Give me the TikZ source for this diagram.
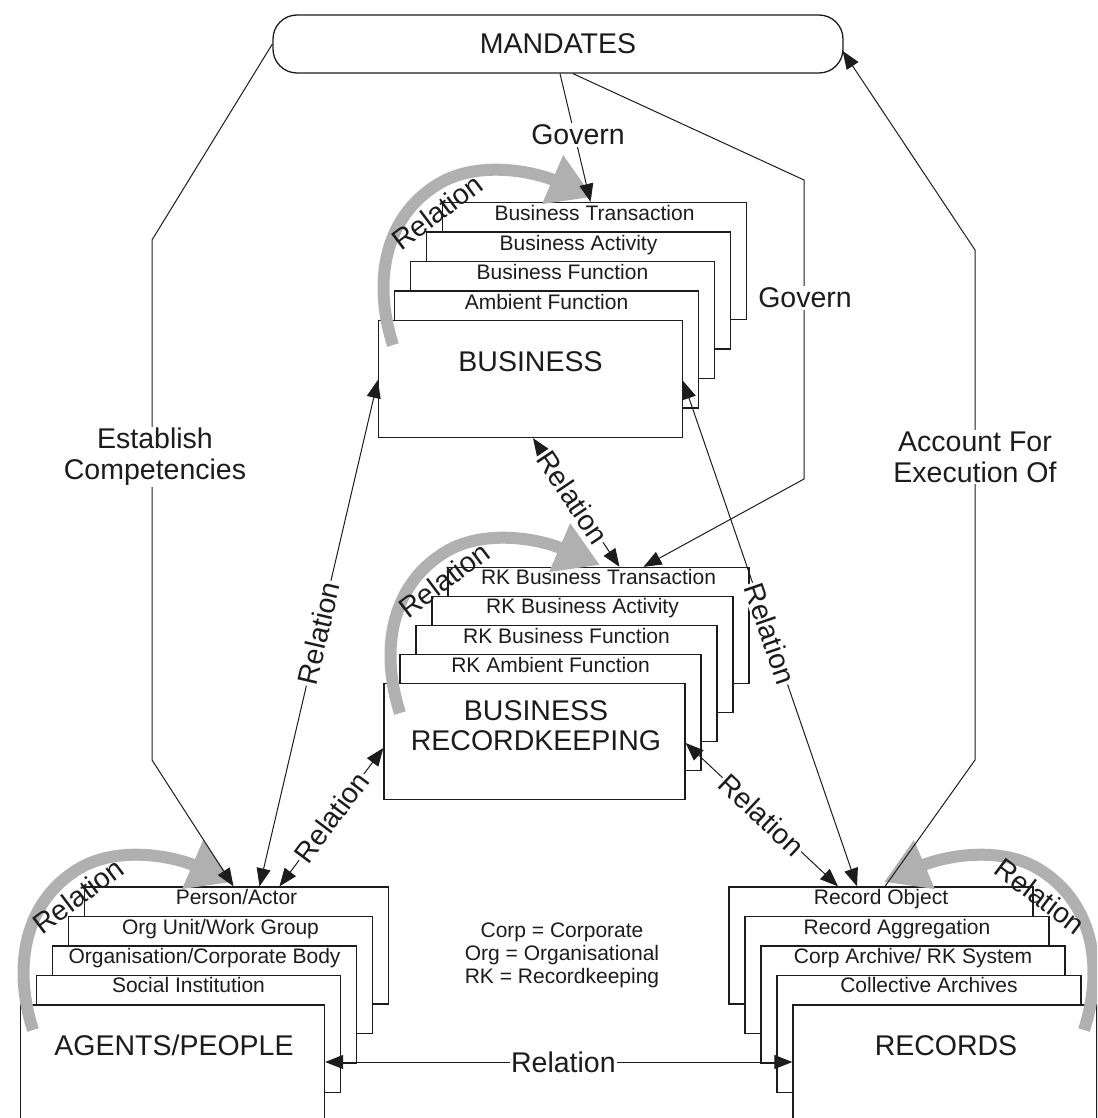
\documentclass[tikz,border=0pt]{standalone}
\usepackage{fontspec}
\setmainfont{Liberation Sans}
\usetikzlibrary{arrows.meta,calc}
\definecolor{arcgray}{RGB}{176,176,176}
\definecolor{ink}{RGB}{28,28,28}
\begin{document}
\begin{tikzpicture}[x=1pt,y=-1pt,
  box/.style={draw=ink, fill=white, line width=1.3pt, minimum width=304pt, minimum height=117pt, inner sep=0pt},
  rkbox/.style={box, minimum width=301pt, minimum height=116pt},
  small/.style={font=\fontsize{21}{23}\selectfont, text=ink, inner sep=0pt, anchor=base},
  big/.style={font=\fontsize{28.5}{31}\selectfont, text=ink},
  bigbase/.style={big, inner sep=0pt, anchor=base},
  conn/.style={draw=ink, line width=1pt},
  tipend/.style={-{Triangle[length=18pt,width=14pt]}},
  both/.style={{Triangle[length=18pt,width=14pt]}-{Triangle[length=18pt,width=14pt]}},
  lbl/.style={big, fill=white, inner sep=1.5pt, sloped},
  plainlbl/.style={big, fill=white, inner sep=1.5pt},
  loopar/.style={draw=arcgray, line width=12pt, -{Triangle[length=44pt,width=50pt]}},
  looplbl/.style={big}
]
\useasboundingbox (0,0) rectangle (1097,1118);
\clip (0,0) rectangle (1097,1118);

% MANDATES
\node[draw=ink, line width=1.3pt, rounded corners=24pt, minimum width=570pt, minimum height=58pt, big] (mand) at (558,44) {MANDATES};

% Business stack
\node[box] (bt) at (594.5,261) {};
\node[box] (ba) at (578.5,290.5) {};
\node[box] (bf) at (562.5,320) {};
\node[box] (bam) at (546.5,349.5) {};
\node[box] (biz) at (530.5,379) {};
\node[small] (tbt) at (594.5,220.5) {Business Transaction};
\node[small] (tba) at (578.5,250) {Business Activity};
\node[small] (tbf) at (562.5,279.5) {Business Function};
\node[small] (tbam) at (546.5,309) {Ambient Function};
\node[bigbase] (tbiz) at (530.5,371) {BUSINESS};

% Recordkeeping stack
\node[rkbox] (rkt) at (598.5,625.5) {};
\node[rkbox] (rka) at (582.5,654.5) {};
\node[rkbox] (rkf) at (566.5,683.5) {};
\node[rkbox] (rkam) at (550.5,712.5) {};
\node[rkbox] (rk) at (534.5,741.5) {};
\node[small] (trkt) at (598.5,584.5) {RK Business Transaction};
\node[small] (trka) at (582.5,613.5) {RK Business Activity};
\node[small] (trkf) at (566.5,643) {RK Business Function};
\node[small] (trkam) at (550.5,672) {RK Ambient Function};
\node[bigbase] (trk1) at (536,720) {BUSINESS};
\node[bigbase] (trk2) at (536,750) {RECORDKEEPING};

% Agents stack
\node[box] (pa) at (236.5,945.5) {};
\node[box] (ou) at (220.5,975) {};
\node[box] (oc) at (204.5,1004.5) {};
\node[box] (si) at (188.5,1034) {};
\node[box] (ag) at (172.5,1063.5) {};
\node[small] (tpa) at (236.5,904.5) {Person/Actor};
\node[small] (tou) at (220.5,934) {Org Unit/Work Group};
\node[small] (toc) at (204.5,963.5) {Organisation/Corporate Body};
\node[small] (tsi) at (188.5,992.5) {Social Institution};
\node[bigbase] (tag) at (174,1055) {AGENTS/PEOPLE};

% Records stack
\node[box] (ro) at (881,945.5) {};
\node[box] (rag) at (897,975) {};
\node[box] (ca) at (913,1004.5) {};
\node[box] (co) at (929,1034) {};
\node[box] (rec) at (945,1063.5) {};
\node[small] (tro) at (881,904.5) {Record Object};
\node[small] (trag) at (897,934) {Record Aggregation};
\node[small] (tca) at (913,963.5) {Corp Archive/ RK System};
\node[small] (tco) at (929,992.5) {Collective Archives};
\node[bigbase] (trec) at (946,1055) {RECORDS};

% Legend
\node[font=\fontsize{21}{23}\selectfont, text=ink, align=center] (leg) at (562,955) {Corp = Corporate\\Org = Organisational\\RK = Recordkeeping};

% Gray self-relation arcs
\draw[loopar] (393,345) .. controls (372,280) and (385,215) .. (440,183) .. controls (480,160) and (535,172) .. (593,197);
\node[looplbl, rotate=37] (lb1) at (437,212) {Relation};
\draw[loopar] (400,713) .. controls (379,648) and (392,583) .. (447,551) .. controls (487,528) and (542,540) .. (600,565);
\node[looplbl, rotate=37] (lb2) at (444,580) {Relation};
\draw[loopar] (33,1030) .. controls (12,965) and (25,900) .. (80,868) .. controls (120,845) and (175,857) .. (233,882);
\node[looplbl, rotate=37] (lb3) at (78,896) {Relation};
\draw[loopar] (1084,1030) .. controls (1105,965) and (1092,900) .. (1037,868) .. controls (997,845) and (942,857) .. (884,882);
\node[looplbl, rotate=-37] (lb4) at (1040,896) {Relation};

% Govern
\draw[conn, tipend] ($(mand.south)+(2,0)$) -- ($(bt.north)+(-4,0)$);
\node[plainlbl] (gov1) at (578,135) {Govern};
\draw[conn, tipend] ($(mand.south)+(15,0)$) -- (804,180) -- (804,479) -- ($(rkt.north)+(45,0)$);
\node[plainlbl] (gov2) at (805,298) {Govern};

% Establish Competencies
\draw[conn, tipend] (mand.west) -- (152,240) -- (152,760) -- ($(pa.north)+(-3,0)$);
\node[plainlbl, align=center] (est) at (155,457) {Establish\\Competencies};

% Account For Execution Of
\draw[conn, tipend] ($(ro.north)+(4,0)$) -- (975,760) -- (975,250) -- ($(mand.east)+(-1,7)$);
\node[plainlbl, align=center] (acc) at (975,457) {Account For\\Execution Of};

% Relations
\draw[conn, both] ($(biz.south)+(2.5,0)$) -- node[lbl, pos=0.46] (r1) {Relation} ($(rkt.north)+(21,0)$);
\draw[conn, both] ($(biz.west)+(0,1)$) -- node[lbl] (r2) {Relation} ($(pa.north)+(23,0)$);
\draw[conn, both] ($(rk.west)+(0,6.5)$) -- node[lbl] (r3) {Relation} ($(pa.north)+(43,0)$);
\draw[conn, both] ($(biz.east)+(0,2)$) -- node[lbl] (r4) {Relation} ($(ro.north)+(-24,0)$);
\draw[conn, both] ($(rk.east)+(0,1.5)$) -- node[lbl] (r5) {Relation} ($(ro.north)+(-43,0)$);
\draw[conn, both] ($(ag.east)+(0,-1.5)$) -- node[lbl, pos=0.51] (r6) {Relation} ($(rec.west)+(0,-1.5)$);
\end{tikzpicture}
\end{document}
